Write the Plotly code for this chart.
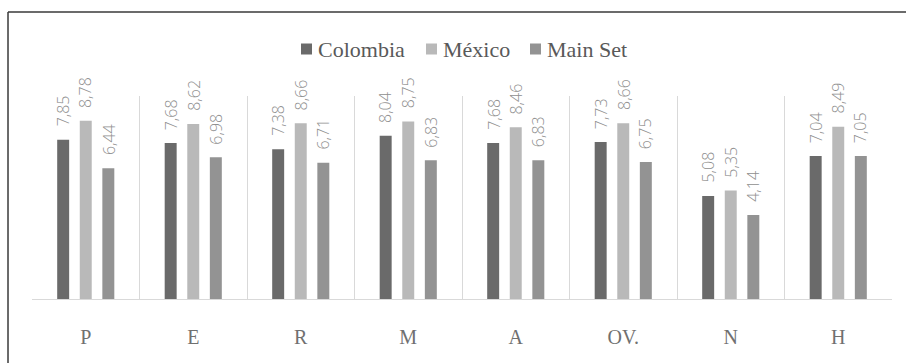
import plotly.graph_objects as go

categories = ["P", "E", "R", "M", "A", "OV.", "N", "H"]
colombia = [7.85, 7.68, 7.38, 8.04, 7.68, 7.73, 5.08, 7.04]
mexico = [8.78, 8.62, 8.66, 8.75, 8.46, 8.66, 5.35, 8.49]
main_set = [6.44, 6.98, 6.71, 6.83, 6.83, 6.75, 4.14, 7.05]

series_names = ["Colombia", "México", "Main Set"]
series_values = [colombia, mexico, main_set]
series_colors = ["#6a6a6a", "#b9b9b9", "#939393"]

BARGAP = 0.37
BARGROUPGAP = 0.47
slot = (1 - BARGAP) / len(series_values)

fig = go.Figure()
for name, vals, col in zip(series_names, series_values, series_colors):
    fig.add_trace(go.Bar(x=categories, y=vals, name=name, showlegend=False,
                         marker=dict(color=col, line=dict(width=0))))

annotations = []
for j, vals in enumerate(series_values):
    off = (j - (len(series_values) - 1) / 2) * slot
    for i, v in enumerate(vals):
        annotations.append(dict(
            x=i + off, y=v, xref="x", yref="y",
            text=f"{v:.2f}".replace(".", ","),
            textangle=-90, showarrow=False,
            xanchor="center", yanchor="bottom", yshift=11,
            font=dict(family="Open Sans", size=16, color="#8f8f8f", weight=300),
        ))

# legend: coloured square + name, laid out left to right in paper coordinates
PLOT_W = 860.0
legend_left = (301.0 - 32.0) / PLOT_W
legend_y = 1.2315
square_px = 12.0
square_text_gap_px = 4.0
item_gap_px = 19.0
name_width_px = [90.0, 69.0, 80.0]
cursor = legend_left
for name, col, w in zip(series_names, series_colors, name_width_px):
    fig.add_shape(type="rect", xref="paper", yref="paper",
                  x0=cursor, x1=cursor + 11.0 / PLOT_W,
                  y0=legend_y - 5.5 / 203.0, y1=legend_y + 5.5 / 203.0,
                  fillcolor=col, line=dict(width=0))
    cursor += (square_px + square_text_gap_px) / PLOT_W
    annotations.append(dict(
        text=name, x=cursor, y=legend_y, xref="paper", yref="paper",
        xanchor="left", yanchor="middle", showarrow=False, borderpad=0,
        font=dict(family="Liberation Serif", size=22, color="#595959"),
    ))
    cursor += (w + item_gap_px) / PLOT_W

fig.update_layout(
    width=906, height=363,
    margin=dict(l=32, r=14, t=96, b=64),
    font=dict(family="Liberation Serif", size=21, color="#595959"),
    paper_bgcolor="white", plot_bgcolor="white",
    barmode="group", bargap=BARGAP, bargroupgap=BARGROUPGAP,
    showlegend=False,
    annotations=annotations,
    xaxis=dict(type="category", tickson="boundaries", showgrid=True, gridcolor="#d9d9d9",
               gridwidth=1, showline=True, linecolor="#d9d9d9", linewidth=1,
               ticks="", tickfont=dict(family="Liberation Serif", size=20, color="#707070"),
               ticklabelstandoff=20, zeroline=False),
    yaxis=dict(range=[0, 10], showgrid=False, showticklabels=False, zeroline=False,
               showline=False, ticks=""),
)
fig.add_shape(type="line", xref="paper", yref="paper", x0=-0.0279, x1=1.2, y0=1.4138, y1=1.4138,
              line=dict(color="#3a3a3a", width=1.5))
fig.add_shape(type="line", xref="paper", yref="paper", x0=-0.0279, x1=-0.0279, y0=-0.6, y1=1.4138,
              line=dict(color="#3a3a3a", width=1.5))

fig.write_html("out.html")
